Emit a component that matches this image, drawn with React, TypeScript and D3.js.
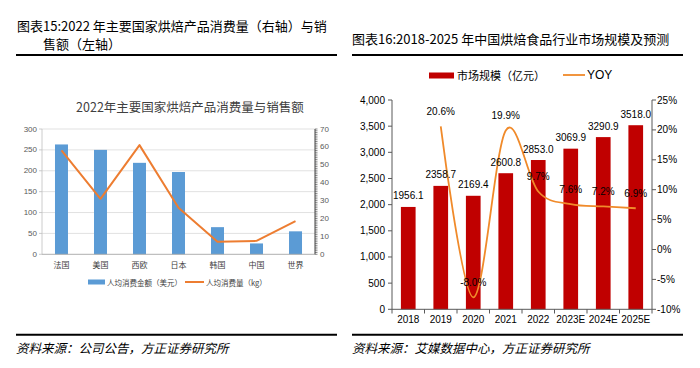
import React from "react";
import * as d3 from "d3";

// ---- Left chart data ----
const countries = ["法国", "美国", "西欧", "日本", "韩国", "中国", "世界"];
const spendUSD = [263, 250, 219, 197, 65, 26, 55];
const consumptionKg = [58, 31, 61, 26, 7, 7.5, 18.5];
const leftTicks = [0, 50, 100, 150, 200, 250, 300];
const rightTicksL = [0, 10, 20, 30, 40, 50, 60, 70];

// ---- Right chart data ----
const years = ["2018", "2019", "2020", "2021", "2022", "2023E", "2024E", "2025E"];
const marketSize = [1956.1, 2358.7, 2169.4, 2600.8, 2853.0, 3069.9, 3290.9, 3518.0];
const yoyYears = ["2019", "2020", "2021", "2022", "2023E", "2024E", "2025E"];
const yoy = [20.6, -8.0, 19.9, 9.7, 7.6, 7.2, 6.9];
const sizeTicks = [0, 500, 1000, 1500, 2000, 2500, 3000, 3500, 4000];
const pctTicks = [-10, -5, 0, 5, 10, 15, 20, 25];

const CJK = "'Noto Sans CJK SC', 'Noto Sans', sans-serif";
const SANS = "'Liberation Sans', Arial, sans-serif";

function LeftChart() {
  const x = d3.scaleBand<string>().domain(countries).range([42, 315]).paddingInner(0.667).paddingOuter(0.333);
  const y = d3.scaleLinear().domain([0, 300]).range([254.3, 129]);
  const y2 = d3.scaleLinear().domain([0, 70]).range([254.3, 129]);
  const cx = (d: string) => (x(d) as number) + x.bandwidth() / 2;
  const line = d3.line<number>().x((_, i) => cx(countries[i])).y((d) => y2(d));
  const minor = d3.range(0, 71, 1);
  return (
    <g>
      <text x={190} y={106} textAnchor="middle" dominantBaseline="central" fontFamily={CJK} fontSize={12.5} fill="#404040">
        2022年主要国家烘焙产品消费量与销售额
      </text>
      {leftTicks.map((t) => (
        <g key={t}>
          {t > 0 && <line x1={42} x2={315} y1={y(t)} y2={y(t)} stroke="#D9D9D9" strokeWidth={0.8} />}
          <line x1={39} x2={42} y1={y(t)} y2={y(t)} stroke="#BFBFBF" strokeWidth={0.8} />
          <text x={37} y={y(t)} textAnchor="end" dominantBaseline="central" fontFamily={SANS} fontSize={8} fill="#595959">
            {t}
          </text>
        </g>
      ))}
      <line x1={42} x2={42} y1={129} y2={254.3} stroke="#BFBFBF" strokeWidth={0.8} />
      {countries.map((c, i) => (
        <rect key={c} x={x(c)} y={y(spendUSD[i])} width={x.bandwidth()} height={y(0) - y(spendUSD[i])} fill="#5B9BD5" />
      ))}
      <line x1={42} x2={315} y1={254.3} y2={254.3} stroke="#A6A6A6" strokeWidth={0.9} />
      <path d={line(consumptionKg) || ""} fill="none" stroke="#ED7D31" strokeWidth={2} strokeLinejoin="round" />
      {/* right axis with dense minor ticks */}
      <line x1={315} x2={315} y1={129} y2={254.3} stroke="#404040" strokeWidth={1} />
      {minor.map((t) => (
        <line key={t} x1={315} x2={317.5} y1={y2(t)} y2={y2(t)} stroke="#404040" strokeWidth={0.6} />
      ))}
      {rightTicksL.map((t) => (
        <text key={t} x={320} y={y2(t)} dominantBaseline="central" fontFamily={SANS} fontSize={8} fill="#595959">
          {t}
        </text>
      ))}
      {countries.map((c) => (
        <text key={c} x={cx(c)} y={264} textAnchor="middle" dominantBaseline="central" fontFamily={CJK} fontSize={8} fill="#404040">
          {c}
        </text>
      ))}
      <rect x={88} y={279.5} width={17} height={5} fill="#5B9BD5" />
      <text x={107} y={282} dominantBaseline="central" fontFamily={CJK} fontSize={7.5} fill="#404040">
        人均消费金额（美元）
      </text>
      <line x1={185} x2={204} y1={282} y2={282} stroke="#ED7D31" strokeWidth={2} />
      <text x={206} y={282} dominantBaseline="central" fontFamily={CJK} fontSize={7.5} fill="#404040">
        人均消费量（kg）
      </text>
    </g>
  );
}

function RightChart() {
  const x = d3.scaleBand<string>().domain(years).range([392, 652]).paddingInner(0.548).paddingOuter(0.274);
  const y = d3.scaleLinear().domain([0, 4000]).range([309.3, 100]);
  const y2 = d3.scaleLinear().domain([-10, 25]).range([309.3, 100]);
  const cx = (d: string) => (x(d) as number) + x.bandwidth() / 2;
  const line = d3
    .line<number>()
    .x((_, i) => cx(yoyYears[i]))
    .y((d) => y2(d))
    .curve(d3.curveCardinal.tension(0));
  const step = x.step();
  const fmt = d3.format(",");
  return (
    <g>
      {/* legend */}
      <rect x={429} y={72.5} width={25} height={6} fill="#C00000" />
      <text x={457} y={75} dominantBaseline="central" fontFamily={CJK} fontSize={11} fill="#000">
        市场规模（亿元）
      </text>
      <line x1={563} x2={585} y1={75} y2={75} stroke="#F08A2A" strokeWidth={1.8} />
      <text x={587} y={75} dominantBaseline="central" fontFamily={SANS} fontSize={12} fill="#000">
        YOY
      </text>
      {/* bars */}
      {years.map((yr, i) => (
        <rect key={yr} x={x(yr)} y={y(marketSize[i])} width={x.bandwidth()} height={y(0) - y(marketSize[i])} fill="#C00000" />
      ))}
      {/* axes */}
      <line x1={392} x2={392} y1={100} y2={309.3} stroke="#595959" strokeWidth={1} />
      {sizeTicks.map((t) => (
        <g key={t}>
          <line x1={388} x2={392} y1={y(t)} y2={y(t)} stroke="#595959" strokeWidth={1} />
          <text x={385} y={y(t)} textAnchor="end" dominantBaseline="central" fontFamily={SANS} fontSize={10} fill="#000">
            {fmt(t)}
          </text>
        </g>
      ))}
      <line x1={652} x2={652} y1={100} y2={309.3} stroke="#595959" strokeWidth={1} />
      {pctTicks.map((t) => (
        <g key={t}>
          <line x1={652} x2={656} y1={y2(t)} y2={y2(t)} stroke="#595959" strokeWidth={1} />
          <text x={657} y={y2(t)} dominantBaseline="central" fontFamily={SANS} fontSize={10} fill="#000">
            {t}%
          </text>
        </g>
      ))}
      <line x1={392} x2={652} y1={309.3} y2={309.3} stroke="#595959" strokeWidth={1} />
      {d3.range(years.length + 1).map((i) => (
        <line key={i} x1={392 + i * step} x2={392 + i * step} y1={309.3} y2={313.5} stroke="#595959" strokeWidth={1} />
      ))}
      {years.map((yr) => (
        <text key={yr} x={cx(yr)} y={319.5} textAnchor="middle" dominantBaseline="central" fontFamily={SANS} fontSize={10} fill="#000">
          {yr}
        </text>
      ))}
      {/* YOY line */}
      <path d={line(yoy) || ""} fill="none" stroke="#F08A2A" strokeWidth={1.8} />
      {/* bar labels */}
      {years.map((yr, i) => (
        <text key={yr} x={cx(yr)} y={y(marketSize[i]) - 11} textAnchor="middle" dominantBaseline="central" fontFamily={SANS} fontSize={10} fill="#000">
          {marketSize[i].toFixed(1)}
        </text>
      ))}
      {/* pct labels */}
      {yoyYears.map((yr, i) => (
        <text key={yr} x={cx(yr)} y={y2(yoy[i]) - 15} textAnchor="middle" dominantBaseline="central" fontFamily={SANS} fontSize={10} fill="#000">
          {yoy[i].toFixed(1)}%
        </text>
      ))}
    </g>
  );
}

export default function App() {
  return (
    <svg width={700} height={368} style={{ position: "absolute", left: 0, top: 0, background: "#fff" }}>
      <rect width={700} height={368} fill="#fff" />
      {/* Titles */}
      <text x={17} y={25} dominantBaseline="central" fontFamily={CJK} fontSize={13} fill="#000">
        图表15:2022 年主要国家烘焙产品消费量（右轴）与销
      </text>
      <text x={43} y={43} dominantBaseline="central" fontFamily={CJK} fontSize={13} fill="#000">
        售额（左轴）
      </text>
      <line x1={16} x2={337} y1={55} y2={55} stroke="#000" strokeWidth={2} />
      <text x={352} y={38} dominantBaseline="central" fontFamily={CJK} fontSize={13} fill="#000">
        图表16:2018-2025 年中国烘焙食品行业市场规模及预测
      </text>
      <line x1={352} x2={683} y1={55} y2={55} stroke="#000" strokeWidth={2} />

      <LeftChart />
      <RightChart />

      {/* Footers */}
      <line x1={16} x2={337} y1={334.7} y2={334.7} stroke="#000" strokeWidth={2} />
      <line x1={352} x2={683} y1={334.7} y2={334.7} stroke="#000" strokeWidth={2} />
      <text x={16} y={347} dominantBaseline="central" fontFamily={CJK} fontSize={12.5} fontStyle="italic" fill="#000">
        资料来源：公司公告，方正证券研究所
      </text>
      <text x={352} y={347} dominantBaseline="central" fontFamily={CJK} fontSize={12.5} fontStyle="italic" fill="#000">
        资料来源：艾媒数据中心，方正证券研究所
      </text>
    </svg>
  );
}
